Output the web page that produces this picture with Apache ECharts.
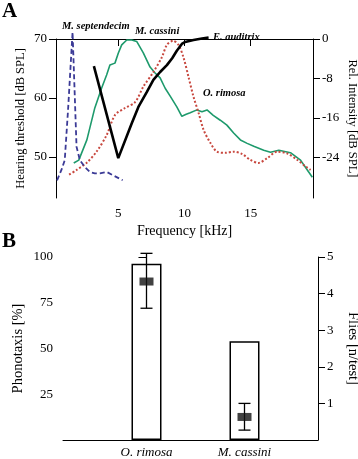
<!DOCTYPE html>
<html>
<head>
<meta charset="utf-8">
<script src="https://cdn.jsdelivr.net/npm/echarts@6/dist/echarts.min.js"></script>
<style>
  html, body { margin: 0; padding: 0; background: #fff; }
  #chart { width: 358px; height: 459px; }
</style>
</head>
<body>
<div id="chart"></div>
<script>
// Panel A: [frequency kHz, dB]
var septendecimData = [[0.38,-28.7],[0.71,-26.6],[0.96,-24.6],[1.21,-14.4],[1.55,1.4],[1.85,-21.9],[2.1,-24.6],[2.48,-26.0],[2.86,-27.0],[3.23,-27.3],[3.61,-27.3],[4.12,-27.0],[4.62,-27.7],[5.33,-28.7]];
var cassiniData = [[1.64,-25.2],[2.02,-24.6],[2.63,-20.5],[3.23,-14.0],[3.74,-10.0],[4.12,-7.3],[4.37,-5.3],[4.75,-4.9],[5.0,-2.9],[5.26,-1.2],[5.64,-0.2],[6.02,-0.2],[6.39,-0.5],[6.89,-2.8],[7.4,-5.7],[7.78,-6.9],[8.16,-7.9],[8.54,-10.0],[8.92,-11.6],[9.42,-13.8],[9.8,-15.7],[10.13,-15.3],[10.43,-15.0],[10.94,-14.4],[11.32,-14.8],[11.7,-14.4],[12.17,-15.5],[12.7,-16.5],[13.2,-17.5],[13.71,-19.1],[14.22,-20.5],[14.73,-21.2],[15.23,-21.8],[15.98,-22.6],[16.49,-23.0],[17.12,-22.6],[18.0,-23.1],[18.76,-24.6],[19.27,-26.6],[19.65,-28.1]];
var auditrixData = [[3.16,-5.5],[5.0,-24.2],[6.02,-17.1],[6.52,-13.8],[7.15,-10.8],[7.65,-8.3],[8.16,-6.7],[8.67,-5.3],[9.07,-3.9],[9.42,-2.4],[9.8,-1.0],[10.05,-0.6],[10.68,-0.2],[11.32,0.1],[11.82,0.3]];
var rimosaData = [[1.29,47.0],[1.85,47.8],[2.61,49.0],[3.36,50.9],[4.12,53.7],[4.75,57.1],[5.51,58.3],[6.27,59.3],[6.89,61.9],[7.65,64.4],[8.29,66.9],[8.67,69.0],[9.14,69.7],[9.55,69.0],[9.92,66.9],[10.3,63.6],[10.68,60.2],[11.06,57.5],[11.44,54.6],[11.95,52.4],[12.45,50.9],[13.08,50.7],[13.71,50.9],[14.35,50.5],[14.98,49.5],[15.58,49.0],[16.24,49.8],[17.0,50.9],[17.76,50.6],[18.52,49.5],[19.14,48.4],[19.52,47.8]];
var freqTicks = [5, 10, 15];
var thresholdTicks = [50, 60, 70];
var intensityTicks = [-24, -16, -8, 0];

// Panel B
var species = ['O. rimosa', 'M. cassini'];
var phonotaxis = [96.3, 54];
var flies = [4.33, 0.63];
var fliesLow = [3.6, 0.27];
var fliesHigh = [5.1, 1.0];
var phonotaxisTicks = [25, 50, 75, 100];
var fliesTicks = [1, 2, 3, 4, 5];

var font = 'Liberation Serif';
var axisLine = { lineStyle: { color: '#000', width: 1 } };
var lbl = { color: '#000', fontFamily: font, fontSize: 13 };

var chart = echarts.init(document.getElementById('chart'));

option = {
    animation: false,
    textStyle: { fontFamily: font },
    grid: [
        { left: 56, top: 39, width: 257, height: 159, containLabel: false, outerBoundsMode: 'none' },
        { left: 63, top: 257, width: 255, height: 183, containLabel: false, outerBoundsMode: 'none' }
    ],
    xAxis: [
        {
            type: 'value', gridIndex: 0, min: 0.3, max: 19.7,
            name: 'Frequency [kHz]', nameLocation: 'middle', nameGap: 26, nameMoveOverlap: false,
            nameTextStyle: { color: '#000', fontFamily: font, fontSize: 14 },
            axisLine: axisLine,
            axisTick: { length: 7, lineStyle: { color: '#000' }, customValues: [0.3].concat(freqTicks, [19.7]) },
            axisLabel: Object.assign({ margin: 9, customValues: freqTicks }, lbl),
            splitLine: { show: false }
        },
        {
            type: 'value', gridIndex: 1, min: -0.852, max: 1.75,
            axisLine: axisLine,
            axisTick: { show: false },
            axisLabel: Object.assign({ margin: 6, fontSize: 14, fontStyle: 'italic', customValues: [0, 1],
                formatter: function (v) { return species[Math.round(v)]; } }, lbl),
            splitLine: { show: false }
        }
    ],
    yAxis: [
        {
            type: 'value', gridIndex: 0, position: 'left', min: 43.05, max: 70,
            name: 'Hearing threshold [dB SPL]', nameLocation: 'middle', nameGap: 29, nameMoveOverlap: false,
            nameTextStyle: { color: '#000', fontFamily: font, fontSize: 12.5 },
            axisLine: Object.assign({ show: true }, axisLine),
            axisTick: { length: 7, lineStyle: { color: '#000' }, customValues: thresholdTicks },
            axisLabel: Object.assign({ margin: 9, customValues: thresholdTicks }, lbl),
            splitLine: { show: false }
        },
        {
            type: 'value', gridIndex: 0, position: 'right', min: -32.3, max: 0,
            name: 'Rel. Intensity [dB SPL]', nameLocation: 'middle', nameGap: 33, nameRotate: -90, nameMoveOverlap: false,
            nameTextStyle: { color: '#000', fontFamily: font, fontSize: 12.5 },
            axisLine: Object.assign({ show: true }, axisLine),
            axisTick: { length: 7, lineStyle: { color: '#000' }, customValues: intensityTicks },
            axisLabel: Object.assign({ margin: 9, customValues: intensityTicks }, lbl),
            splitLine: { show: false }
        },
        {
            type: 'value', gridIndex: 1, position: 'left', min: 0, max: 100,
            name: 'Phonotaxis [%]', nameLocation: 'middle', nameGap: 37, nameMoveOverlap: false,
            nameTextStyle: { color: '#000', fontFamily: font, fontSize: 14.5 },
            axisLine: Object.assign({ show: true }, axisLine),
            axisTick: { length: 8, lineStyle: { color: '#000' }, customValues: phonotaxisTicks },
            axisLabel: Object.assign({ margin: 10, customValues: phonotaxisTicks }, lbl),
            splitLine: { show: false }
        },
        {
            type: 'value', gridIndex: 1, position: 'right', min: 0, max: 5,
            name: 'Flies [n/test]', nameLocation: 'middle', nameGap: 27, nameRotate: -90, nameMoveOverlap: false,
            nameTextStyle: { color: '#000', fontFamily: font, fontSize: 14.5 },
            axisLine: Object.assign({ show: true }, axisLine),
            axisTick: { length: 7, lineStyle: { color: '#000' }, customValues: fliesTicks },
            axisLabel: Object.assign({ margin: 9, customValues: fliesTicks }, lbl),
            splitLine: { show: false }
        }
    ],
    graphic: [
        { type: 'text', left: 2, top: 1, style: { text: 'A', font: 'bold 21px "Liberation Serif"', fill: '#000' } },
        { type: 'text', left: 2, top: 231, style: { text: 'B', font: 'bold 21px "Liberation Serif"', fill: '#000' } },
        { type: 'text', left: 62, top: 21, style: { text: 'M. septendecim', font: 'italic bold 10.5px "Liberation Serif"', fill: '#000' } },
        { type: 'text', left: 135, top: 26, style: { text: 'M. cassini', font: 'italic bold 10.5px "Liberation Serif"', fill: '#000' } },
        { type: 'text', left: 213, top: 32, style: { text: 'E. auditrix', font: 'italic bold 10.5px "Liberation Serif"', fill: '#000' } },
        { type: 'text', left: 203, top: 88, style: { text: 'O. rimosa', font: 'italic bold 10.5px "Liberation Serif"', fill: '#000' } }
    ],
    series: [
        {
            name: 'M. cassini', type: 'line', xAxisIndex: 0, yAxisIndex: 1, clip: false,
            data: cassiniData, showSymbol: false,
            lineStyle: { color: '#1e9a6c', width: 1.6 }
        },
        {
            name: 'O. rimosa', type: 'line', xAxisIndex: 0, yAxisIndex: 0, clip: false,
            data: rimosaData, showSymbol: false, smooth: 0.3,
            lineStyle: { color: '#c8483f', width: 2, type: [2, 2] }
        },
        {
            name: 'M. septendecim', type: 'line', xAxisIndex: 0, yAxisIndex: 1, clip: false,
            data: septendecimData, showSymbol: false,
            lineStyle: { color: '#3b3a96', width: 1.8, type: [5, 3] }
        },
        {
            name: 'E. auditrix', type: 'line', xAxisIndex: 0, yAxisIndex: 1, clip: false,
            data: auditrixData, showSymbol: false,
            lineStyle: { color: '#000', width: 2.6 }
        },
        // Panel B bars (phonotaxis)
        {
            type: 'bar', xAxisIndex: 1, yAxisIndex: 2, barWidth: 30,
            data: species.map(function (s, i) { return [i, phonotaxis[i]]; }),
            itemStyle: { color: '#fff', borderColor: '#000', borderWidth: 1.5 }
        },
        // error bars (flies)
        {
            type: 'custom', xAxisIndex: 1, yAxisIndex: 3, z: 5,
            data: species.map(function (s, i) { return [i, fliesLow[i], fliesHigh[i]]; }),
            renderItem: function (params, api) {
                var lo = api.coord([api.value(0), api.value(1)]);
                var hi = api.coord([api.value(0), api.value(2)]);
                var st = { stroke: '#000', lineWidth: 1.3 };
                return {
                    type: 'group',
                    children: [
                        { type: 'line', shape: { x1: lo[0], y1: lo[1], x2: hi[0], y2: hi[1] }, style: st },
                        { type: 'line', shape: { x1: lo[0] - 6, y1: lo[1], x2: lo[0] + 6, y2: lo[1] }, style: st },
                        { type: 'line', shape: { x1: hi[0] - 6, y1: hi[1], x2: hi[0] + 6, y2: hi[1] }, style: st }
                    ]
                };
            }
        },
        {
            type: 'scatter', xAxisIndex: 1, yAxisIndex: 3, z: 6,
            symbol: 'rect', symbolSize: [14, 8],
            data: species.map(function (s, i) { return [i, flies[i]]; }),
            itemStyle: { color: '#111' }
        }
    ]
};

chart.setOption(option);
</script>
</body>
</html>
